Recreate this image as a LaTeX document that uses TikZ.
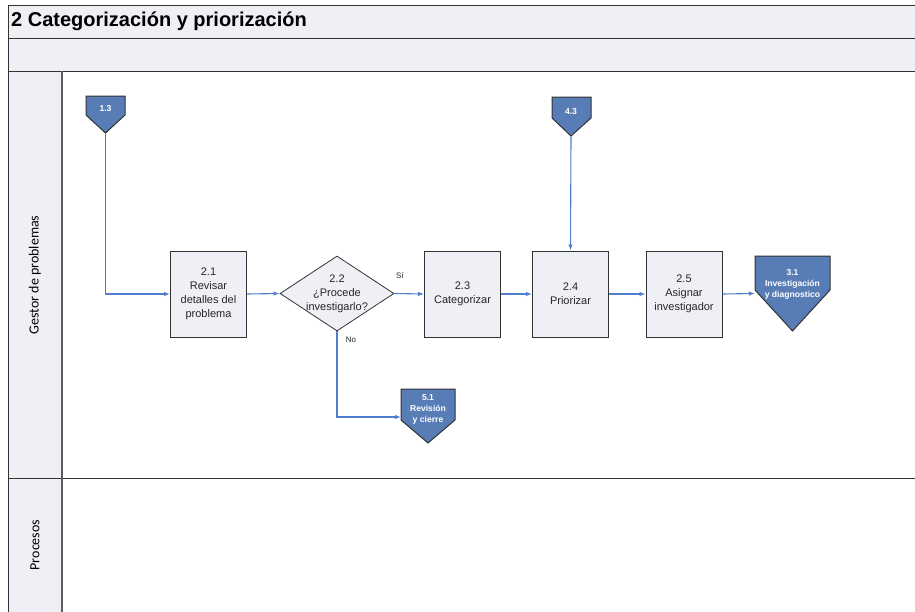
\documentclass[tikz,border=0pt]{standalone}
\usepackage{fontspec}
\setmainfont{Liberation Sans}
\newfontfamily\lanefont{Carlito}
\usetikzlibrary{arrows.meta,shapes.geometric}
\definecolor{bandfill}{HTML}{EEF0F6}
\definecolor{boxfill}{HTML}{EEF0F6}
\definecolor{frameline}{HTML}{333333}
\definecolor{offfill}{HTML}{587DB6}
\definecolor{flow}{HTML}{4F7FCC}
\tikzset{
  x=1pt,y=-1pt,
  frame/.style={draw=frameline,line width=1pt},
  stepbox/.style={draw=frameline,line width=1pt,fill=boxfill,minimum width=76pt,minimum height=86pt,inner sep=0pt,align=center,font=\fontsize{11}{14}\selectfont,text=black!85},
  decision/.style={draw=frameline,line width=0.8pt,fill=boxfill,diamond,minimum width=114pt,minimum height=75pt,aspect=1.52,inner sep=0pt},
  offpage/.style={draw=frameline,line width=1pt,fill=offfill},
  offtext/.style={text=white,font=\bfseries\fontsize{8.6}{11}\selectfont,align=center,inner sep=0pt},
  flowline/.style={draw=flow,line width=1.1pt,-{Latex[length=6pt,width=4.5pt]}},
  lbl/.style={font=\fontsize{8}{9}\selectfont,text=black!85,inner sep=0pt},
  lanelbl/.style={font=\lanefont\fontsize{14}{16}\selectfont,rotate=90,inner sep=0pt}
}
\begin{document}
\begin{tikzpicture}
\useasboundingbox (0,0) rectangle (915,611);
% bands
\fill[bandfill] (8,5) rectangle (920,71);
\fill[bandfill] (8,71) rectangle (62,615);
\draw[frame] (8,5) -- (920,5);
\draw[frame] (8,38) -- (920,38);
\draw[frame] (8,71) -- (920,71);
\draw[frame] (8,478) -- (920,478);
\draw[frame] (8,5) -- (8,615);
\draw[draw=frameline!80,line width=1.4pt] (62,71) -- (62,615);
\node[anchor=west,font=\bfseries\fontsize{20}{24}\selectfont,inner sep=0pt] (title) at (11,21) {2 Categorización y priorización};
\node[lanelbl] (lane1) at (35,275) {Gestor de problemas};
\node[lanelbl] (lane2) at (35,545) {Procesos};

% steps
\node[stepbox] (b21) at (208.5,294) {2.1\\Revisar\\detalles del\\problema};
\node[decision] (d22) at (337,293.5) {};
\node[align=center,font=\fontsize{11}{14}\selectfont,text=black!85,inner sep=0pt] (t22) at (337,293.5) {2.2\\¿Procede\\investigarlo?};
\node[stepbox] (b23) at (462.5,294) {2.3\\Categorizar};
\node[stepbox] (b24) at (570.5,294) {2.4\\Priorizar};
\node[stepbox] (b25) at (684,294) {2.5\\Asignar\\investigador};

% off-page connectors
\draw[offpage] (86,96) -- (125,96) -- (125,115) -- (105.5,133) -- (86,115) -- cycle;
\node[offtext] (o13t) at (105.5,109) {1.3};
\coordinate (o13) at (105.5,133);
\draw[offpage] (552,97) -- (591,97) -- (591,118) -- (571,136) -- (552,118) -- cycle;
\node[offtext] (o43t) at (571,112) {4.3};
\coordinate (o43) at (571,136);
\draw[offpage] (755,256) -- (830,256) -- (830,290) -- (792.5,331) -- (755,290) -- cycle;
\node[offtext] (o31t) at (792.5,284) {3.1\\Investigación\\y diagnostico};
\coordinate (o31) at (755,293.5);
\draw[offpage] (401,389) -- (455,389) -- (455,420) -- (428,443) -- (401,420) -- cycle;
\node[offtext] (o51t) at (428,409) {5.1\\Revisión\\y cierre};
\coordinate (o51) at (401,417);

% connectors
\draw[flowline] (o13) |- (b21.west);
\draw[flowline] (b21.east) -- (d22.west);
\draw[flowline] (d22.east) -- (b23.west);
\draw[flowline] (b23.east) -- (b24.west);
\draw[flowline] (o43) -- (b24.north);
\draw[flowline] (b24.east) -- (b25.west);
\draw[flowline] (b25.east) -- (o31);
\draw[flowline] (d22.south) |- (o51);
\node[lbl] (si) at (400,276) {Sí};
\node[lbl] (no) at (351,340) {No};
\end{tikzpicture}
\end{document}
